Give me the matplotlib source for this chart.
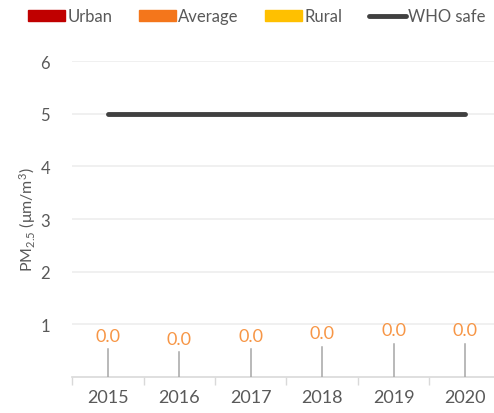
import numpy as np
import matplotlib
matplotlib.use("Agg")
import matplotlib.pyplot as plt
from matplotlib.lines import Line2D
from matplotlib.patches import Patch

plt.rcParams.update({
    "font.family": ["Lato", "DejaVu Sans"],
    "mathtext.fontset": "custom",
    "mathtext.rm": "Lato",
    "mathtext.it": "Lato",
})

years = ["2015", "2016", "2017", "2018", "2019", "2020"]
urban = [0.0, 0.0, 0.0, 0.0, 0.0, 0.0]
average = [0.0, 0.0, 0.0, 0.0, 0.0, 0.0]
rural = [0.0, 0.0, 0.0, 0.0, 0.0, 0.0]
who_safe = [5, 5, 5, 5, 5, 5]

# label placement (data units) for the leader-lined data labels
label_y = [0.78, 0.72, 0.78, 0.83, 0.89, 0.89]
leader_top = [0.53, 0.47, 0.53, 0.57, 0.63, 0.63]

C_URBAN = "#C00000"
C_AVG = "#F4761B"
C_RURAL = "#FFC000"
C_WHO = "#404040"
C_TEXT = "#595959"

fig = plt.figure(figsize=(4.94, 4.14), dpi=100)
ax = fig.add_axes([0.1464, 0.087, 0.867, 0.763])

x = np.arange(len(years))
w = 0.25
ax.bar(x - w, urban, w, color=C_URBAN)
ax.bar(x, average, w, color=C_AVG)
ax.bar(x + w, rural, w, color=C_RURAL)
ax.plot(x, who_safe, color=C_WHO, lw=3.5, solid_capstyle="round", zorder=4)

for i, v in enumerate(average):
    ax.plot([x[i], x[i]], [v, leader_top[i]], color="#A6A6A6", lw=1.1, zorder=3)
    ax.text(x[i], label_y[i], f"{v:.1f}", color="#F79646", fontsize=13,
            ha="center", va="center")

ax.set_xlim(-0.5, len(years) - 0.5)
ax.set_ylim(0, 6)
ax.set_yticks([1, 2, 3, 4, 5, 6])
ax.yaxis.grid(True, color="#EDEDED", lw=1.2)
ax.set_axisbelow(True)
ax.set_xticks(np.arange(-0.5, len(years), 1.0), minor=False)
ax.set_xticklabels([])
ax.set_xticks(x, minor=True)
ax.set_xticklabels(years, minor=True)
ax.tick_params(axis="x", which="major", length=6, color="#D9D9D9", width=1)
ax.tick_params(axis="x", which="minor", length=0, pad=9, labelsize=13,
               labelcolor=C_TEXT)
ax.tick_params(axis="y", length=0, pad=16, labelsize=12, labelcolor=C_TEXT)
for s in ["top", "right", "left"]:
    ax.spines[s].set_visible(False)
ax.spines["bottom"].set_color("#D9D9D9")
ax.spines["bottom"].set_linewidth(1.2)

ax.set_ylabel(r"PM$_{2.5}$ ($\mu$m/m$^3$)", color=C_TEXT, fontsize=11.5, labelpad=2)

handles = [Patch(color=C_URBAN), Patch(color=C_AVG), Patch(color=C_RURAL),
           Line2D([], [], color=C_WHO, lw=3.5, solid_capstyle="round")]
fig.legend(handles, ["Urban", "Average", "Rural", "WHO safe"],
           loc="center", bbox_to_anchor=(0.52, 0.958), ncol=4, frameon=False,
           fontsize=12, labelcolor=C_TEXT, handlelength=2.2, handleheight=0.6,
           handletextpad=0.15, columnspacing=1.6)

fig.savefig("out.png", dpi=100)
